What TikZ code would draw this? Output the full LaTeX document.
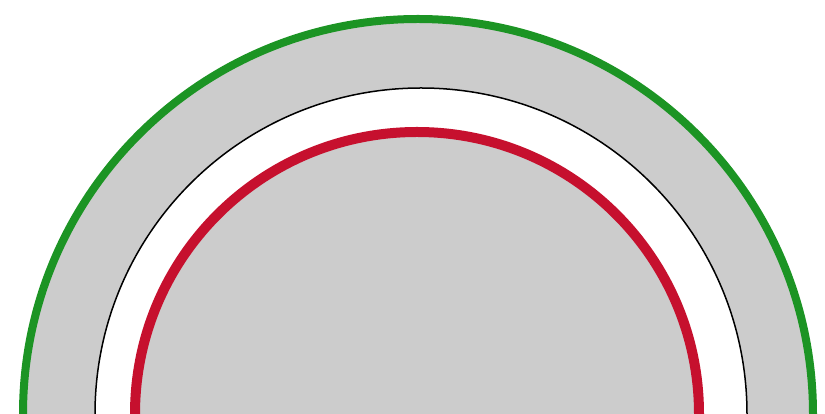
\documentclass[tikz,border=0pt]{standalone}
\definecolor{ringgray}{RGB}{204,204,204}
\definecolor{ringgreen}{RGB}{28,148,36}
\definecolor{ringred}{RGB}{198,16,46}
\begin{document}
\begin{tikzpicture}[x=1pt,y=1pt]
\useasboundingbox (0,0) rectangle (825,414);
\clip (0,0) rectangle (825,414);
% outer gray band
\fill[ringgray] (418,0) ++(0:397) arc[start angle=0,end angle=180,radius=397] -- cycle;
% white gap
\fill[white] (421,0) ++(0:326) arc[start angle=0,end angle=180,radius=326] -- cycle;
% inner gray
\fill[ringgray] (417,0) ++(0:282) arc[start angle=0,end angle=180,radius=282] -- cycle;
% black thin arc
\draw[black,line width=1.5pt] (421,0) ++(0:326) arc[start angle=0,end angle=180,radius=326];
% red arc
\draw[ringred,line width=10pt] (417,0) ++(0:282) arc[start angle=0,end angle=180,radius=282];
% green outer arc
\draw[ringgreen,line width=8pt] (418,0) ++(0:395) arc[start angle=0,end angle=180,radius=395];
\end{tikzpicture}
\end{document}
